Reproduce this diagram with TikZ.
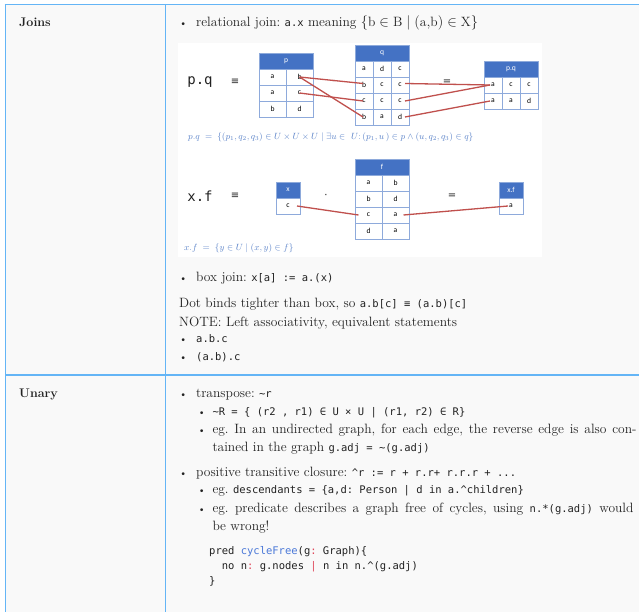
\documentclass[tikz,border=0pt]{standalone}
\usepackage{fontspec}
\newfontfamily\mono{DejaVu Sans Mono}
\newfontfamily\cellsans{Carlito}
\newfontfamily\symsans{DejaVu Sans}
\definecolor{rulecol}{HTML}{64B5F6}
\definecolor{cellbg}{HTML}{F9F9F9}
\definecolor{hdr}{HTML}{4472C4}
\definecolor{gridcol}{HTML}{8EAADB}
\definecolor{linkred}{HTML}{C0504D}
\definecolor{formcol}{HTML}{5B83C9}
\definecolor{kwblue}{HTML}{4A78D8}
\definecolor{kwred}{HTML}{E0475A}
\definecolor{ink}{HTML}{222222}
\newcommand{\tld}{{\mono\char"7E}}
\newcommand{\crt}{{\mono\char"5E}}
\newcommand{\ttc}[1]{{\mono\fontsize{10.5}{12}\selectfont #1}}
\frenchspacing
\begin{document}
\begin{tikzpicture}[x=1pt,y=-1pt,
  body/.style={anchor=base west, inner sep=0, text=ink, font=\frenchspacing\fontsize{13.5}{16}\selectfont},
  head/.style={anchor=base west, inner sep=0, text=ink, font=\bfseries\fontsize{12.5}{15}\selectfont},
  codeline/.style={anchor=base west, inner sep=0, text=ink, font=\frenchspacing\mono\fontsize{10.5}{12}\selectfont},
  bul/.style={anchor=base, inner sep=0, text=ink, font=\fontsize{10}{12}\selectfont},
  cell/.style={draw=gridcol, line width=0.6pt, minimum width=27pt, minimum height=16pt,
    inner sep=0, text=black, font=\cellsans\fontsize{7.6}{8}\selectfont},
  hcell/.style={cell, fill=hdr, text=white, minimum width=54pt},
  narrow/.style={minimum width=18pt},
  single/.style={minimum width=24pt},
  bigop/.style={inner sep=0, text=ink, font=\symsans\fontsize{10}{12}\selectfont},
  biglabel/.style={inner sep=0, text=ink, font=\mono\fontsize{14}{16}\selectfont},
  formula/.style={anchor=base west, inner sep=0, text=formcol, font=\fontsize{8.9}{10}\selectfont},
  link/.style={draw=linkred, line width=1.3pt},
  frame/.style={draw=rulecol, line width=1.4pt}]
\useasboundingbox (0,0) rectangle (639,612);
% table background and figure area
\fill[cellbg] (5,4) rectangle (639,612);
\fill[white] (178,43) rectangle (542,257);
% table rules
\draw[frame] (4.5,4.5) -- (639,4.5);
\draw[frame] (5.5,4) -- (5.5,612);
\draw[frame] (165.5,4) -- (165.5,612);
\draw[frame] (5,375) -- (639,375);

% row headers
\node[head] (joins) at (19,26.5) {Joins};
\node[head] (unary) at (19,397.7) {Unary};

% ---------- Joins ----------
\node[bul] (b1) at (183.3,26.5) {\textbullet};
\node[body] (t1) at (196,26.5) {relational join: \ttc{a.x} meaning $\{\mathrm{b}\in\mathrm{B}\mid(\mathrm{a{,}b})\in\mathrm{X}\}$};

% p . q
\node[biglabel] (pqlab) at (200,82) {p.q};
\node[bigop] (eq1) at (235,82) {≡};
\node[hcell] (ph) at (286,61) {p};
\node[cell] (p11) at (272.5,77) {a};  \node[cell] (p12) at (299.5,77) {b};
\node[cell] (p21) at (272.5,93) {a};  \node[cell] (p22) at (299.5,93) {c};
\node[cell] (p31) at (272.5,109) {b}; \node[cell] (p32) at (299.5,109) {d};
\node[bigop] (dot1) at (334,82) {·};
\node[hcell] (qh) at (382,53) {q};
\node[cell,narrow] (q11) at (364,69) {a};  \node[cell,narrow] (q12) at (382,69) {d};  \node[cell,narrow] (q13) at (400,69) {c};
\node[cell,narrow] (q21) at (364,85) {b};  \node[cell,narrow] (q22) at (382,85) {c};  \node[cell,narrow] (q23) at (400,85) {c};
\node[cell,narrow] (q31) at (364,101) {c}; \node[cell,narrow] (q32) at (382,101) {c}; \node[cell,narrow] (q33) at (400,101) {c};
\node[cell,narrow] (q41) at (364,117) {b}; \node[cell,narrow] (q42) at (382,117) {a}; \node[cell,narrow] (q43) at (400,117) {d};
\node[bigop] (eq2) at (447,82) {=};
\node[hcell] (pqh) at (511,69) {p.q};
\node[cell,narrow] (r11) at (493,85) {a};  \node[cell,narrow] (r12) at (511,85) {c};  \node[cell,narrow] (r13) at (529,85) {c};
\node[cell,narrow] (r21) at (493,101) {a}; \node[cell,narrow] (r22) at (511,101) {a}; \node[cell,narrow] (r23) at (529,101) {d};
\draw[link] (p12.center) -- ([xshift=-1pt,yshift=1.5pt]q21.center);
\draw[link] (p12.center) -- ([xshift=-1pt]q41.center);
\draw[link] (p22.center) -- ([xshift=-1pt]q31.center);
\draw[link] ([xshift=5pt,yshift=1.5pt]q23.center) -- ([xshift=-3pt]r11.center);
\draw[link] ([xshift=5pt]q33.center) -- ([xshift=-3pt]r11.center);
\draw[link] ([xshift=5pt]q43.center) -- ([xshift=-3pt]r21.center);
\node[formula] (f1) at (188,140) {$p.q\;=\;\{(p_1,q_2,q_3)\in U\times U\times U\mid \exists u\in\ U\colon(p_1,u\,)\in p\wedge(u,q_2,q_3)\in q\}$};

% x . f
\node[biglabel] (xflab) at (200,196) {x.f};
\node[bigop] (eq3) at (235,196) {≡};
\node[hcell,single] (xh) at (288,190) {x};
\node[cell,single] (x1) at (288,206) {c};
\node[bigop] (dot2) at (326,196) {·};
\node[hcell] (fh) at (382,167) {f};
\node[cell] (f11) at (368.5,183) {a}; \node[cell] (f12) at (395.5,183) {b};
\node[cell] (f21) at (368.5,199) {b}; \node[cell] (f22) at (395.5,199) {d};
\node[cell] (f31) at (368.5,215) {c}; \node[cell] (f32) at (395.5,215) {a};
\node[cell] (f41) at (368.5,231) {d}; \node[cell] (f42) at (395.5,231) {a};
\node[bigop] (eq4) at (452,196) {=};
\node[hcell,single] (xfh) at (511,190) {x.f};
\node[cell,single] (xf1) at (511,206) {a};
\draw[link] ([xshift=9pt]x1.center) -- ([xshift=-10pt]f31.center);
\draw[link] ([xshift=8pt]f32.center) -- ([xshift=-3pt]xf1.center);
\node[formula] (f2) at (184,251) {$x.f\;=\;\{y\in U\mid(x,y)\in f\}$};

\node[bul] (b2) at (183.3,281.7) {\textbullet};
\node[body] (t2) at (196,281.7) {box join: \ttc{x[a] := a.(x)}};
\node[body] (t3) at (179,307.7) {Dot binds tighter than box, so \ttc{a.b[c] ≡ (a.b)[c]}};
\node[body] (t4) at (179,326.7) {NOTE: Left associativity, equivalent statements};
\node[bul] (b3) at (183.3,342.7) {\textbullet};
\node[codeline] (t5) at (196,342.7) {a.b.c};
\node[bul] (b4) at (183.3,360) {\textbullet};
\node[codeline] (t6) at (196,360) {(a.b).c};

% ---------- Unary ----------
\node[bul] (u1) at (183.3,397.7) {\textbullet};
\node[body] (ut1) at (196,397.7) {transpose: \ttc{\tld r}};
\node[bul] (u2) at (201.7,415.7) {\textbullet};
\node[codeline] (ut2) at (212.3,415.7) {\tld R = \{ (r2 , r1) ∈ U × U | (r1, r2) ∈ R\}};
\node[bul] (u3) at (201.7,433.3) {\textbullet};
\node[body] (ut3) at (212.3,433.3) {\makebox[424pt][s]{eg. In an undirected graph, for each edge, the reverse edge is also con-}};
\node[body] (ut4) at (212.3,451) {tained in the graph \ttc{g.adj = \tld(g.adj)}};
\node[bul] (u4) at (183.3,476.7) {\textbullet};
\node[body] (ut5) at (196,476.7) {positive transitive closure: \ttc{\crt r := r + r.r+ r.r.r + ...}};
\node[bul] (u5) at (201.7,493.3) {\textbullet};
\node[body] (ut6) at (212.3,493.3) {eg. \ttc{descendants = \{a,d: Person | d in a.\crt children\}}};
\node[bul] (u6) at (201.7,512.7) {\textbullet};
\node[body] (ut7) at (212.3,512.7) {\makebox[421pt][s]{eg. predicate describes a graph free of cycles, using \ttc{n.*(g.adj)} would}};
\node[body] (ut8) at (212.3,530) {be wrong!};
\node[codeline] (c1) at (209,554) {pred \textcolor{kwblue}{cycleFree}(g\textcolor{kwred}{:} Graph)\{};
\node[codeline] (c2) at (221.7,569) {no n\textcolor{kwred}{:} g.nodes \textcolor{kwred}{|} n in n.\crt(g.adj)};
\node[codeline] (c3) at (209,584) {\}};
\end{tikzpicture}
\end{document}
